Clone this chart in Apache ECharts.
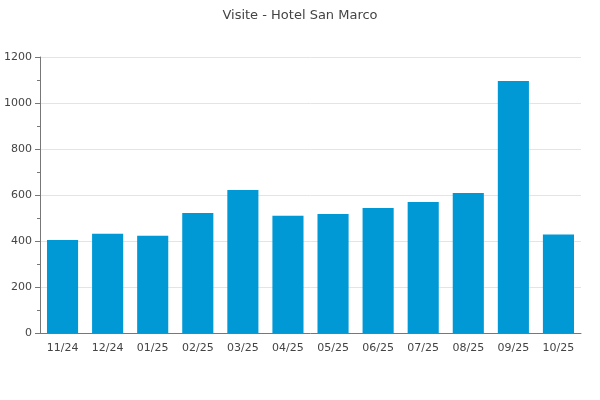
<!DOCTYPE html>
<html><head><meta charset="utf-8">
<script src="https://cdn.jsdelivr.net/npm/echarts@6/dist/echarts.min.js"></script>
<style>html,body{margin:0;padding:0;background:#fff}#c{width:600px;height:400px}</style>
</head><body><div id="c"></div>
<script>
const categories = ['11/24','12/24','01/25','02/25','03/25','04/25','05/25','06/25','07/25','08/25','09/25','10/25'];
const visits = [404, 432, 423, 522, 622, 510, 517, 543, 570, 609, 1096, 428];
const yTicks = { min: 0, max: 1200, interval: 200 };

const chart = echarts.init(document.getElementById('c'), null, { renderer: 'canvas' });
chart.setOption({
  animation: false,
  backgroundColor: '#fff',
  textStyle: { fontFamily: 'DejaVu Sans' },
  title: {
    text: 'Visite - Hotel San Marco', left: 'center', top: 4,
    textStyle: { fontFamily: 'DejaVu Sans', fontSize: 13, fontWeight: 'normal', color: '#444' }
  },
  grid: { left: 40, right: 19, top: 57, bottom: 67, containLabel: false, outerBoundsMode: 'none' },
  xAxis: {
    type: 'category', data: categories,
    axisLine: { lineStyle: { color: '#777' } },
    axisTick: { show: false },
    axisLabel: { color: '#444', fontSize: 11, margin: 10, fontFamily: 'DejaVu Sans' }
  },
  yAxis: {
    type: 'value', min: yTicks.min, max: yTicks.max, interval: yTicks.interval,
    axisLine: { show: true, lineStyle: { color: '#777' } },
    axisTick: { show: true, length: 5, lineStyle: { color: '#777' } },
    minorTick: { show: true, splitNumber: 2, length: 3, lineStyle: { color: '#777' } },
    splitLine: { lineStyle: { color: '#e4e4e4' } },
    axisLabel: { color: '#444', fontSize: 11, margin: 8, fontFamily: 'DejaVu Sans', formatter: v => String(v) }
  },
  series: [{
    type: 'bar', data: visits, barCategoryGap: '31%',
    itemStyle: { color: '#0099d6' }
  }]
});
</script></body></html>
